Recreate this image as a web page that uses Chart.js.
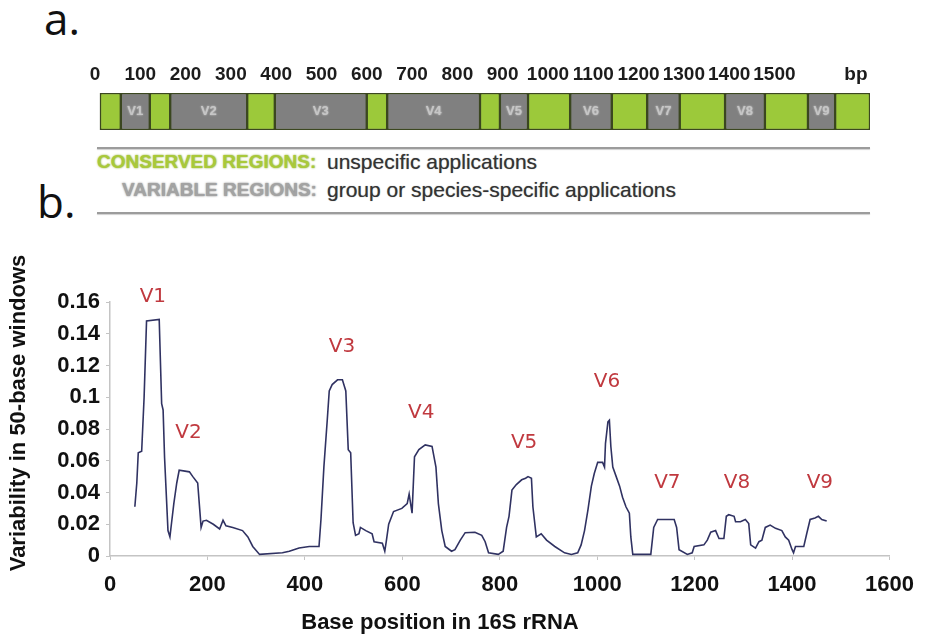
<!DOCTYPE html>
<html lang="en">
<head>
    <meta charset="UTF-8">
    <title>16S rRNA variable regions</title>
    <script src="https://cdn.jsdelivr.net/npm/chart.js"></script>
    <style>
        body {
            margin: 0;
            width: 926px;
            height: 637px;
            position: relative;
            background: #fff;
            overflow: hidden;
            font-family: "Liberation Sans", Arial, sans-serif;
        }
        .panel-letter {
            position: absolute;
            font-family: "Open Sans", sans-serif;
            font-size: 44px;
            line-height: 1;
            color: #111;
        }
        .rule {
            position: absolute;
            left: 97px;
            width: 773px;
            height: 0;
            border-top: 2px solid #9c9c9c;
            box-shadow: 0 1px 1px #d0d0d0;
        }
        .legend-row {
            position: absolute;
            height: 24px;
            line-height: 24px;
            white-space: nowrap;
        }
        .key {
            position: absolute;
            font-weight: bold;
            font-size: 19px;
        }
        .desc {
            position: absolute;
            left: 327px;
            font-size: 21px;
            color: #333;
            text-shadow: 0 0 1px #888;
        }
        canvas { position: absolute; left: 0; }
    </style>
</head>
<body>
    <div class="panel-letter" style="left:44px; top:-4px;">a.</div>
    <div class="panel-letter" style="left:37px; top:179px;">b.</div>

    <canvas id="mapChart" width="926" height="140" style="top:0;"></canvas>

    <div class="rule" style="top:147px;"></div>
    <div class="legend-row" style="top:150px; left:0; width:926px;">
        <span class="key" style="left:97px; color:#a9c93a; text-shadow:0 0 2px #8aa82a;">CONSERVED REGIONS:</span>
        <span class="desc">unspecific applications</span>
    </div>
    <div class="legend-row" style="top:178px; left:0; width:926px;">
        <span class="key" style="left:122px; color:#a3a3a3; text-shadow:0 0 2px #777;">VARIABLE REGIONS:</span>
        <span class="desc">group or species-specific applications</span>
    </div>
    <div class="rule" style="top:212px;"></div>

    <canvas id="varChart" width="926" height="417" style="top:220px;"></canvas>

    <script>
        // panel a: 16S gene map (bp)
        const segmentBounds = [11, 57, 121, 166, 336, 397, 600, 645, 850, 894, 956, 1049, 1141, 1219, 1291, 1391, 1479, 1574, 1634, 1711];
        const segmentNames = ['', 'V1', '', 'V2', '', 'V3', '', 'V4', '', 'V5', '', 'V6', '', 'V7', '', 'V8', '', 'V9', ''];
        const mapTicks = [0, 100, 200, 300, 400, 500, 600, 700, 800, 900, 1000, 1100, 1200, 1300, 1400, 1500, 1680];
        const mapTickLabels = ['0', '100', '200', '300', '400', '500', '600', '700', '800', '900', '1000', '1100', '1200', '1300', '1400', '1500', 'bp'];

        // panel b: variability in 50-base windows
        const basePosition = [51, 55, 58, 65, 70, 75, 101, 106, 109, 112, 119, 123, 126, 131, 137, 142, 163, 170, 180, 184,
            187, 191, 198, 212, 225, 232, 238, 252, 272, 283, 293, 307, 354, 368, 388, 409, 429, 433, 439, 446,
            450, 456, 467, 477, 484, 489, 494, 499, 504, 511, 514, 525, 538, 542, 559, 564, 567, 572, 582, 599,
            610, 614, 620, 625, 634, 647, 661, 669, 674, 681, 688, 701, 708, 719, 729, 749, 763, 770, 777, 797,
            807, 814, 819, 825, 834, 845, 853, 858, 865, 868, 875, 885, 896, 913, 933, 947, 960, 967, 974, 981,
            988, 994, 1001, 1011, 1015, 1017, 1022, 1025, 1028, 1032, 1039, 1046, 1052, 1059, 1066, 1069, 1073, 1110, 1116, 1124,
            1158, 1163, 1168, 1185, 1195, 1199, 1219, 1226, 1233, 1243, 1250, 1260, 1265, 1270, 1281, 1284, 1294, 1304, 1311, 1315,
            1325, 1332, 1338, 1345, 1355, 1366, 1379, 1386, 1393, 1400, 1403, 1407, 1424, 1430, 1437, 1447, 1454, 1461, 1471];
        const variability = [0.031, 0.046, 0.065, 0.066, 0.100, 0.148, 0.149, 0.096, 0.092, 0.062, 0.016, 0.012, 0.020, 0.033, 0.046, 0.054, 0.053, 0.050, 0.046, 0.030,
            0.018, 0.022, 0.0225, 0.020, 0.017, 0.0225, 0.019, 0.018, 0.016, 0.012, 0.006, 0.001, 0.002, 0.003, 0.005, 0.006, 0.006, 0.023, 0.056, 0.086,
            0.104, 0.108, 0.111, 0.111, 0.104, 0.067, 0.065, 0.021, 0.013, 0.014, 0.018, 0.016, 0.014, 0.009, 0.008, 0.003, 0.009, 0.020, 0.028, 0.030,
            0.033, 0.039, 0.027, 0.0625, 0.067, 0.070, 0.069, 0.056, 0.033, 0.016, 0.006, 0.003, 0.004, 0.010, 0.0147, 0.015, 0.013, 0.009, 0.002, 0.001,
            0.003, 0.018, 0.025, 0.0415, 0.045, 0.048, 0.049, 0.050, 0.049, 0.031, 0.012, 0.014, 0.010, 0.006, 0.002, 0.001, 0.002, 0.007, 0.016, 0.029,
            0.044, 0.052, 0.059, 0.059, 0.056, 0.071, 0.0845, 0.0855, 0.069, 0.056, 0.050, 0.044, 0.037, 0.031, 0.027, 0.012, 0.001, 0.001, 0.018, 0.023,
            0.023, 0.018, 0.004, 0.001, 0.002, 0.006, 0.007, 0.010, 0.015, 0.016, 0.011, 0.011, 0.025, 0.026, 0.025, 0.0216, 0.0216, 0.023, 0.0205, 0.007,
            0.005, 0.009, 0.010, 0.018, 0.0195, 0.0174, 0.016, 0.012, 0.010, 0.004, 0.002, 0.006, 0.006, 0.014, 0.023, 0.024, 0.025, 0.023, 0.022];

        const peakNames = ['V1', 'V2', 'V3', 'V4', 'V5', 'V6', 'V7', 'V8', 'V9'];
        const peakBp = [88, 161, 476, 639, 850, 1020, 1144, 1287, 1457];
        const peakLevel = [0.163, 0.0775, 0.1317, 0.090, 0.0712, 0.1096, 0.046, 0.046, 0.046];

        const xTitle = 'Base position in 16S rRNA';
        const yTitle = 'Variability in 50-base windows';

        // V labels inside the grey map segments
        const segmentLabels = {
            id: 'segmentLabels',
            afterDatasetsDraw(chart) {
                const ctx = chart.ctx;
                ctx.save();
                ctx.font = 'bold 13px "Liberation Sans"';
                ctx.textAlign = 'center';
                ctx.textBaseline = 'middle';
                ctx.fillStyle = '#c6c6c6';
                ctx.shadowColor = 'rgba(230,230,230,0.8)';
                ctx.shadowBlur = 2;
                segmentNames.forEach((name, i) => {
                    if (!name) return;
                    const bar = chart.getDatasetMeta(i).data[0];
                    ctx.fillText(name, (bar.x + bar.base) / 2, bar.y);
                });
                ctx.restore();
            }
        };

        new Chart(document.getElementById('mapChart'), {
            type: 'bar',
            data: {
                labels: ['16S'],
                datasets: segmentNames.map((name, i) => ({
                    label: name || 'conserved',
                    data: [[segmentBounds[i], segmentBounds[i + 1]]],
                    backgroundColor: name ? '#808080' : '#9cc93a',
                    borderColor: '#3b4720',
                    borderWidth: 1.5,
                    borderSkipped: false,
                    grouped: false,
                    barPercentage: 1,
                    categoryPercentage: 1
                }))
            },
            options: {
                indexAxis: 'y',
                responsive: false,
                animation: false,
                layout: { padding: { left: 95, right: 56, top: 50, bottom: 10 } },
                plugins: { legend: { display: false }, tooltip: { enabled: false } },
                scales: {
                    x: {
                        type: 'linear',
                        position: 'top',
                        min: 0,
                        max: 1711,
                        afterBuildTicks: s => { s.ticks = mapTicks.map(v => ({ value: v })); },
                        afterFit: s => { s.height = 43; },
                        ticks: {
                            callback: (v, i) => mapTickLabels[i],
                            autoSkip: false,
                            maxRotation: 0,
                            padding: 7,
                            color: '#1c1c1c',
                            font: { family: 'Liberation Sans', size: 19, weight: 'bold' }
                        },
                        grid: { display: false, drawTicks: false },
                        border: { display: false }
                    },
                    y: { display: false }
                }
            },
            plugins: [segmentLabels]
        });

        // peak names and axis titles for panel b
        const peakLabels = {
            id: 'peakLabels',
            afterDraw(chart) {
                const { ctx, scales: { x, y } } = chart;
                ctx.save();
                ctx.textAlign = 'center';
                ctx.textBaseline = 'middle';
                ctx.font = '20px "DejaVu Sans"';
                ctx.fillStyle = '#c0393f';
                peakNames.forEach((name, i) => {
                    ctx.fillText(name, x.getPixelForValue(peakBp[i]), y.getPixelForValue(peakLevel[i]));
                });
                ctx.fillStyle = '#111';
                ctx.font = 'bold 22px "Liberation Sans"';
                ctx.fillText(xTitle, 440, 403);
                ctx.translate(19, 193);
                ctx.rotate(-Math.PI / 2);
                ctx.fillText(yTitle, 0, 0);
                ctx.restore();
            }
        };

        new Chart(document.getElementById('varChart'), {
            type: 'line',
            data: {
                datasets: [{
                    label: 'Variability',
                    data: basePosition.map((b, i) => ({ x: b, y: variability[i] })),
                    borderColor: '#303262',
                    borderWidth: 1.6,
                    pointRadius: 0,
                    tension: 0,
                    fill: false
                }]
            },
            options: {
                responsive: false,
                animation: false,
                layout: { padding: { left: 0, right: 33, top: 82, bottom: 0 } },
                plugins: { legend: { display: false }, tooltip: { enabled: false } },
                scales: {
                    x: {
                        type: 'linear',
                        min: 0,
                        max: 1600,
                        afterFit: s => { s.height = 81; },
                        ticks: {
                            stepSize: 200,
                            padding: 12,
                            color: '#111',
                            callback: v => String(v),
                            font: { family: 'Liberation Sans', size: 22, weight: 'bold' }
                        },
                        grid: { drawOnChartArea: false, tickLength: 4, color: '#c4c4c4' },
                        border: { color: '#c4c4c4', width: 1.5 }
                    },
                    y: {
                        min: 0,
                        max: 0.16,
                        afterFit: s => { s.width = 110; },
                        ticks: {
                            stepSize: 0.02,
                            padding: 6,
                            color: '#111',
                            callback: v => String(Math.round(v * 100) / 100),
                            font: { family: 'Liberation Sans', size: 22, weight: 'bold' }
                        },
                        grid: { drawOnChartArea: false, tickLength: 4, color: '#c4c4c4' },
                        border: { color: '#c4c4c4', width: 1.5 }
                    }
                }
            },
            plugins: [peakLabels]
        });
    </script>
</body>
</html>
